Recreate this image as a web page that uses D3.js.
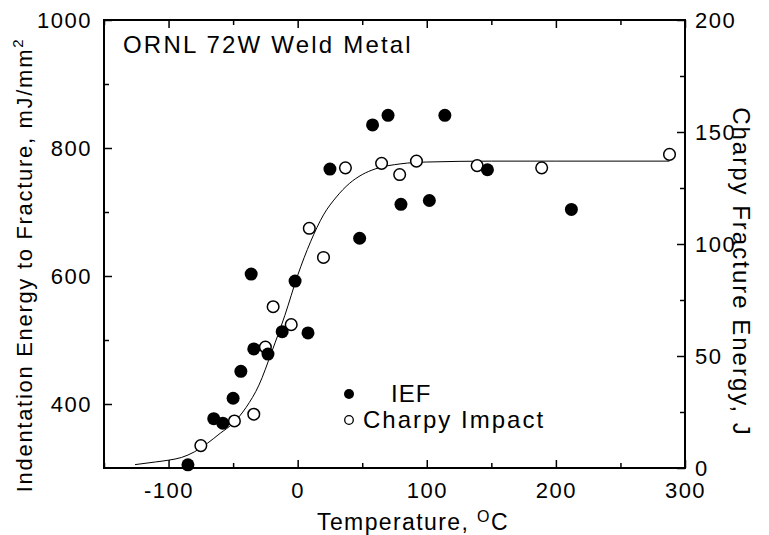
<!DOCTYPE html>
<html>
<head>
<meta charset="utf-8">
<script src="https://cdn.jsdelivr.net/npm/d3@7"></script>
<style>
  body { margin: 0; background: #fff; }
  text { font-family: "Liberation Sans", Arial, sans-serif; fill: #000; }
</style>
</head>
<body>
<div id="chart"></div>
<script>
// IEF points: temperature (C), indentation energy (mJ/mm2) - left axis
const iefTemp = [-85, -65, -58, -50, -44, -36, -34, -23, -12, -2, 8, 25, 48, 58, 70, 80, 102, 114, 147, 212];
const iefVal  = [305, 377, 370, 409, 451, 603, 486, 478, 513, 592, 511, 767, 659, 836, 851, 712, 718, 851, 766, 704];

// Charpy points: temperature (C), fracture energy (J) - right axis
const charpyTemp = [-75, -49, -34, -25, -19, -5, 9, 20, 37, 65, 79, 92, 139, 189, 288];
const charpyVal  = [10, 21, 24, 54, 72, 64, 107, 94, 134, 136, 131, 137, 135, 134, 140];

// fitted curve (right axis units)
const fitTemp = [-126, -110, -100, -90, -80, -70, -60, -50, -40, -30, -20, -10, 0, 10, 20, 30, 40, 50, 60, 80, 100, 150, 200, 288];
const fitVal  = [1.5, 2.7, 3.5, 4.7, 7.2, 11, 15.5, 20, 27, 37, 52, 68, 86, 101, 113, 121, 127, 131, 133.5, 135.8, 136.6, 137, 137, 137];

const xMajor = [-100, 0, 100, 200, 300];
const xMinor = [-150, -50, 50, 150, 250];
const leftMajor = [400, 600, 800, 1000];
const leftMinor = [500, 700, 900];
const rightMajor = [0, 50, 100, 150, 200];
const rightMinor = [25, 75, 125, 175];

const width = 769, height = 535;
const margin = {top: 20, right: 84, bottom: 67, left: 104};

const svg = d3.select('#chart').append('svg')
    .attr('width', width)
    .attr('height', height);

const x = d3.scaleLinear().domain([-150, 300]).range([margin.left, width - margin.right]);
const yL = d3.scaleLinear().domain([300, 1000]).range([height - margin.bottom, margin.top]);
const yR = d3.scaleLinear().domain([0, 200]).range([height - margin.bottom, margin.top]);

const fmt = d => String(d);
const fontSize = 22;

function styleAxis(g) {
    g.select('.domain').remove();
    g.selectAll('.tick line').attr('stroke', '#000').attr('stroke-width', 1.5);
    g.selectAll('.tick text')
        .style('font-size', fontSize + 'px')
        .style('letter-spacing', '1.5px')
        .attr('fill', '#000');
}

const bottomY = height - margin.bottom;
const rightX = width - margin.right;

// bottom
svg.append('g').attr('transform', `translate(0,${bottomY})`)
    .call(d3.axisBottom(x).tickValues(xMajor).tickFormat(fmt).tickSize(-8).tickPadding(14))
    .call(styleAxis);
svg.append('g').attr('transform', `translate(0,${bottomY})`)
    .call(d3.axisBottom(x).tickValues(xMinor).tickFormat('').tickSize(-5))
    .call(styleAxis);
// top
svg.append('g').attr('transform', `translate(0,${margin.top})`)
    .call(d3.axisTop(x).tickValues(xMajor).tickFormat('').tickSize(-8))
    .call(styleAxis);
svg.append('g').attr('transform', `translate(0,${margin.top})`)
    .call(d3.axisTop(x).tickValues(xMinor).tickFormat('').tickSize(-5))
    .call(styleAxis);
// left
svg.append('g').attr('transform', `translate(${margin.left},0)`)
    .call(d3.axisLeft(yL).tickValues(leftMajor).tickFormat(fmt).tickSize(-8).tickPadding(12))
    .call(styleAxis);
svg.append('g').attr('transform', `translate(${margin.left},0)`)
    .call(d3.axisLeft(yL).tickValues(leftMinor).tickFormat('').tickSize(-5))
    .call(styleAxis);
// right
svg.append('g').attr('transform', `translate(${rightX},0)`)
    .call(d3.axisRight(yR).tickValues(rightMajor).tickFormat(fmt).tickSize(-8).tickPadding(10))
    .call(styleAxis);
svg.append('g').attr('transform', `translate(${rightX},0)`)
    .call(d3.axisRight(yR).tickValues(rightMinor).tickFormat('').tickSize(-5))
    .call(styleAxis);

// frame
svg.append('rect')
    .attr('x', margin.left).attr('y', margin.top)
    .attr('width', rightX - margin.left).attr('height', bottomY - margin.top)
    .attr('fill', 'none').attr('stroke', '#000').attr('stroke-width', 2);

// fitted curve
const fitData = fitTemp.map((t, i) => [t, fitVal[i]]);
svg.append('path')
    .datum(fitData)
    .attr('fill', 'none')
    .attr('stroke', '#000')
    .attr('stroke-width', 1)
    .attr('d', d3.line().x(d => x(d[0])).y(d => yR(d[1])).curve(d3.curveMonotoneX));

// charpy (open)
svg.append('g').selectAll('circle')
    .data(charpyTemp.map((t, i) => [t, charpyVal[i]]))
    .join('circle')
    .attr('cx', d => x(d[0])).attr('cy', d => yR(d[1]))
    .attr('r', 5.8)
    .attr('fill', '#fff').attr('stroke', '#000').attr('stroke-width', 1.5);

// IEF (filled)
svg.append('g').selectAll('circle')
    .data(iefTemp.map((t, i) => [t, iefVal[i]]))
    .join('circle')
    .attr('cx', d => x(d[0])).attr('cy', d => yL(d[1]))
    .attr('r', 6.5)
    .attr('fill', '#000');

// title inside plot
svg.append('text')
    .attr('x', 123).attr('y', 53)
    .style('font-size', '24px').style('letter-spacing', '2.2px')
    .text('ORNL 72W Weld Metal');

// legend
svg.append('circle').attr('cx', 349).attr('cy', 394).attr('r', 5).attr('fill', '#000');
svg.append('text').attr('x', 391).attr('y', 402)
    .style('font-size', '24px').style('letter-spacing', '1px').text('IEF');
svg.append('circle').attr('cx', 349).attr('cy', 420).attr('r', 4.3)
    .attr('fill', '#fff').attr('stroke', '#000').attr('stroke-width', 1.3);
svg.append('text').attr('x', 363).attr('y', 428)
    .style('font-size', '24px').style('letter-spacing', '2px').text('Charpy Impact');

// axis titles
const xt = svg.append('text')
    .attr('x', 413).attr('y', 530)
    .attr('text-anchor', 'middle')
    .style('font-size', '23px').style('letter-spacing', '1.4px');
xt.append('tspan').text('Temperature, ');
xt.append('tspan').attr('dy', -8).style('font-size', '16px').text('O');
xt.append('tspan').attr('dy', 8).text('C');

const lt = svg.append('text')
    .attr('transform', 'translate(32,265) rotate(-90)')
    .attr('text-anchor', 'middle')
    .style('font-size', '22px').style('letter-spacing', '1.7px');
lt.append('tspan').text('Indentation Energy to Fracture, mJ/mm');
lt.append('tspan').attr('dy', -9).style('font-size', '15px').text('2');

svg.append('text')
    .attr('transform', 'translate(733,272) rotate(90)')
    .attr('text-anchor', 'middle')
    .style('font-size', '24px').style('letter-spacing', '2px')
    .text('Charpy Fracture Energy, J');
</script>
</body>
</html>
